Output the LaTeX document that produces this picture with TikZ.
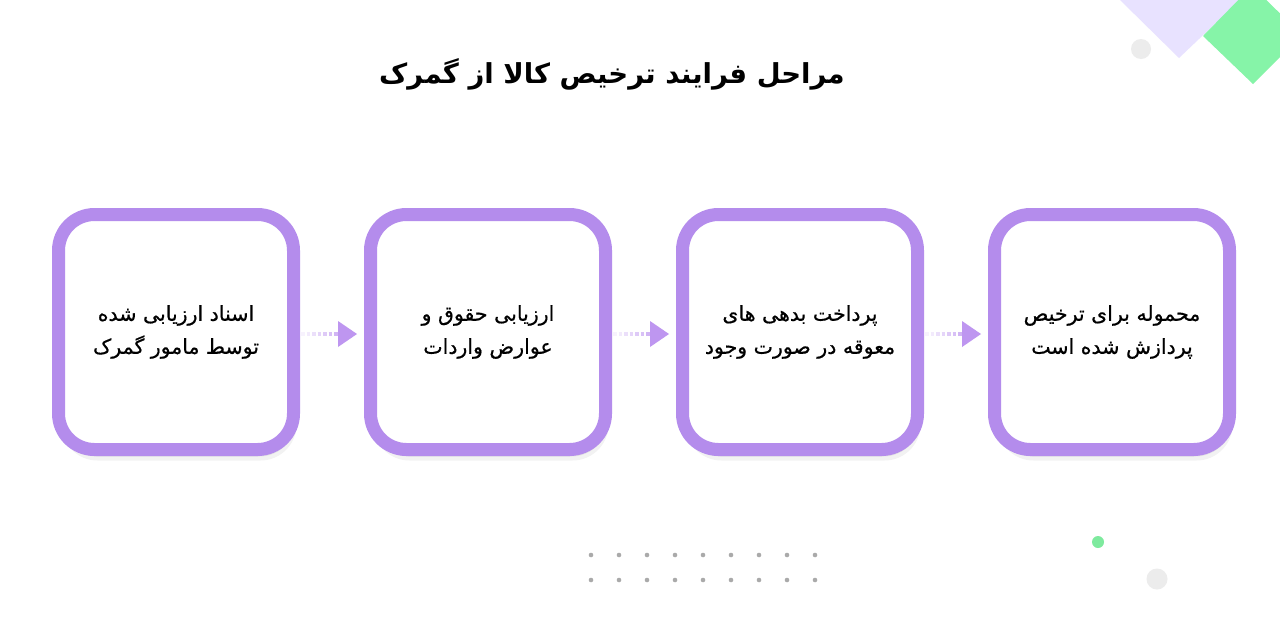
\documentclass[tikz,border=0pt]{standalone}
\usepackage{fontspec}
\newfontfamily\arabicfont[Script=Arabic]{DejaVu Sans}
\newfontfamily\arabicmed[Script=Arabic,FakeBold=0.6]{DejaVu Sans}
\TeXXeTstate=1
\usetikzlibrary{calc,shadows}
\definecolor{boxpurple}{RGB}{180,140,236}
\definecolor{arrowpurple}{RGB}{190,150,240}
\definecolor{lavender}{RGB}{232,226,255}
\definecolor{mint}{RGB}{134,244,168}
\definecolor{lightgrey}{RGB}{236,236,236}
\definecolor{dotgrey}{RGB}{170,170,170}
\definecolor{greendot}{RGB}{126,234,158}
\tikzset{
  stepbox/.style={draw=boxpurple, line width=13pt, fill=white, rounded corners=36pt,
    minimum width=235pt, minimum height=235pt, align=center, inner sep=0pt,
    font=\arabicmed\fontsize{20.5}{33}\selectfont,
    drop shadow={shadow xshift=3pt, shadow yshift=-11pt, opacity=0.05, fill=black},
    drop shadow={shadow xshift=2pt, shadow yshift=-7pt, opacity=0.06, fill=black}},
  tipstyle/.style={fill=arrowpurple},
  titlestyle/.style={font=\arabicfont\bfseries\fontsize{27.5}{32}\selectfont}
}
\begin{document}
\begin{tikzpicture}[x=1pt,y=-1pt]
\fill[white] (0,0) rectangle (1280,638);
\useasboundingbox (0,0) rectangle (1280,638);
% decorations top right
\begin{scope}
\clip (0,0) rectangle (1280,638);
\fill[lavender] (1120,0) -- (1179,58) -- (1240,0) -- cycle;
\fill[mint] (1203,36) -- (1253,84) -- (1302,35) -- (1252,-14) -- cycle;
\end{scope}
\fill[lightgrey] (1141,49) circle (10);
% title
\node[titlestyle] (title) at (612,74) {\beginR مراحل فرایند ترخیص کالا از گمرک\endR};
% boxes
\node[stepbox] (b1) at (176,332) {\beginR اسناد ارزیابی شده\endR\\\beginR توسط مامور گمرک\endR};
\node[stepbox] (b2) at (488,332) {\beginR ارزیابی حقوق و\endR\\\beginR عوارض واردات\endR};
\node[stepbox] (b3) at (800,332) {\beginR پرداخت بدهی های\endR\\\beginR معوقه در صورت وجود\endR};
\node[stepbox] (b4) at (1112,332) {\beginR محموله برای ترخیص\endR\\\beginR پردازش شده است\endR};
% arrows
\foreach \a/\b in {b1/b2, b2/b3, b3/b4}{
  \foreach \i/\op in {0/0.12,1/0.2,2/0.3,3/0.4,4/0.5,5/0.6,6/0.7}{
    \draw[arrowpurple, line width=4pt, opacity=\op]
      ($(\a.east)+(1+5.5*\i,2)$) -- ($(\a.east)+(4.5+5.5*\i,2)$);
  }
  \fill[tipstyle] ($(\b.west)+(-26,-11)$) -- ($(\b.west)+(-7,2)$) -- ($(\b.west)+(-26,15)$) -- cycle;
}
% dots
\foreach \r in {555,580}{
  \foreach \k in {0,...,8}{
    \fill[dotgrey] (591+28*\k,\r) circle (2.3);
  }
}
\fill[greendot] (1098,542) circle (6);
\fill[lightgrey] (1157,579) circle (10.5);
\end{tikzpicture}
\end{document}
